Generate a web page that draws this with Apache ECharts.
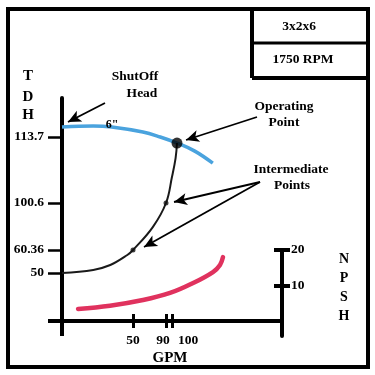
<!DOCTYPE html>
<html><head><meta charset="utf-8">
<script src="https://cdn.jsdelivr.net/npm/echarts@6/dist/echarts.min.js"></script>
<style>html,body{margin:0;padding:0;background:#fff}#c{width:375px;height:375px}</style>
</head><body><div id="c"></div>
<script>
// ---- data ----
const gpmTicks = [50, 90, 100];
const headTicks = [50, 60.36, 100.6, 113.7];
const npshTicks = [10, 20];
const pumpGpm = [0, 22, 35, 62, 83, 108.3, 138, 168];
const pumpHead = [115.7, 115.9, 115.7, 114.7, 113.7, 112.5, 110.9, 108.5];
const sysGpm = [0, 22, 34, 46, 50, 74, 90, 100, 106, 108.3];
const sysHead = [50, 51.4, 53.6, 58.1, 60.36, 80, 100.6, 105.8, 109.5, 112.5];
const interGpm = [50, 90];
const interHead = [60.36, 100.6];
const opGpm = [108.3];
const opHead = [112.5];
const npshGpm = [11.3, 33.8, 62.1, 96.7, 135, 168.3, 180, 185];
const npshVal = [3.4, 4.3, 5.9, 7.9, 10.7, 13.8, 15.8, 18.0];

// ---- schematic (non-linear) axis scales ----
const gpmKnots = [[0, 0], [50, 71], [90, 104], [100, 110]];
const headKnots = [[50, 48], [60.36, 71], [100.6, 118], [113.7, 184]];
function piecewise(knots, v) {
  let i = 0;
  while (i < knots.length - 2 && v > knots[i + 1][0]) i++;
  const a = knots[i], b = knots[i + 1];
  return a[1] + (v - a[0]) * (b[1] - a[1]) / (b[0] - a[0]);
}
const gx = v => piecewise(gpmKnots, v);
const hy = v => piecewise(headKnots, v);
const pair = (xs, ys, fy) => xs.map((x, i) => [gx(x), fy ? fy(ys[i]) : ys[i]]);

const SERIF = '"Liberation Serif", "Times New Roman", serif';
const font = (s) => 'bold ' + s + 'px ' + SERIF;
const gTickVals = gpmTicks.map(gx);
const hTickVals = headTicks.map(hy);
function idxOf(arr, v) { let b = 0; arr.forEach((a, i) => { if (Math.abs(a - v) < Math.abs(arr[b] - v)) b = i; }); return b; }

const labelBase = { fontFamily: SERIF, fontWeight: 'bold', fontSize: 13.5, color: '#000' };

function txt(text, x, y, size) {
  return { type: 'text', z: 10, style: { text, x, y, font: font(size), fill: '#000',
    align: 'center', verticalAlign: 'middle', textAlign: 'center', textVerticalAlign: 'middle' } };
}
function seg(x1, y1, x2, y2, w) {
  return { type: 'line', z: 10, shape: { x1, y1, x2, y2 }, style: { stroke: '#000', lineWidth: w } };
}

const chart = echarts.init(document.getElementById('c'), null, { renderer: 'canvas' });
chart.setOption({
  animation: false,
  backgroundColor: '#fff',
  grid: [
    { left: 62, right: 93, top: 98, bottom: 54 },
    { left: 281, width: 1, top: 250, bottom: 39 }
  ],
  xAxis: [
    { gridIndex: 0, type: 'value', position: 'bottom', min: 0, max: 220, splitLine: { show: false },
      axisLine: { show: true, onZero: false, lineStyle: { color: '#000', width: 4 } },
      axisTick: { show: true, customValues: gTickVals, length: 7, inside: false, lineStyle: { color: '#000', width: 3 } },
      axisLabel: { show: true, customValues: gTickVals, margin: 13,
        formatter: v => { const i = idxOf(gTickVals, v); return '{p' + i + '|' + gpmTicks[i] + '}'; },
        rich: {
          p0: Object.assign({}, labelBase),
          p1: Object.assign({ padding: [0, 6, 0, 0] }, labelBase),
          p2: Object.assign({ padding: [0, 0, 0, 32] }, labelBase)
        } } },
    { gridIndex: 0, type: 'value', position: 'bottom', min: 0, max: 220, splitLine: { show: false },
      axisLine: { show: false, onZero: false },
      axisTick: { show: true, customValues: gTickVals, length: 7, inside: true, lineStyle: { color: '#000', width: 3 } },
      axisLabel: { show: false } },
    { gridIndex: 0, type: 'value', position: 'bottom', min: 0, max: 220, splitLine: { show: false },
      axisLine: { show: false, onZero: false },
      axisTick: { show: true, customValues: [0], length: 15, inside: false, lineStyle: { color: '#000', width: 4 } },
      axisLabel: { show: false } },
    { gridIndex: 1, type: 'value', position: 'bottom', min: 0, max: 1, show: false }
  ],
  yAxis: [
    { gridIndex: 0, type: 'value', position: 'left', min: 0, max: 223, splitLine: { show: false },
      axisLine: { show: true, onZero: false, lineStyle: { color: '#000', width: 4 } },
      axisTick: { show: true, customValues: hTickVals, length: 14, inside: false, lineStyle: { color: '#000', width: 2.5 } },
      axisLabel: Object.assign({ show: true, customValues: hTickVals, margin: 18,
        formatter: v => String(headTicks[idxOf(hTickVals, v)]) }, labelBase) },
    { gridIndex: 0, type: 'value', position: 'left', min: 0, max: 223, splitLine: { show: false },
      axisLine: { show: false, onZero: false },
      axisTick: { show: true, customValues: [0], length: 14, inside: false, lineStyle: { color: '#000', width: 4 } },
      axisLabel: { show: false } },
    { gridIndex: 0, type: 'value', position: 'left', min: 0, max: 223 / 3.55, show: false },
    { gridIndex: 1, type: 'value', position: 'right', min: -15 / 3.55, max: 20, splitLine: { show: false },
      axisLine: { show: true, onZero: false, lineStyle: { color: '#000', width: 4 } },
      axisTick: { show: true, customValues: npshTicks, length: 8, inside: false, lineStyle: { color: '#000', width: 4 } },
      axisLabel: Object.assign({ show: true, customValues: npshTicks, margin: 9 }, labelBase) },
    { gridIndex: 1, type: 'value', position: 'right', min: -15 / 3.55, max: 20, splitLine: { show: false },
      axisLine: { show: false, onZero: false },
      axisTick: { show: true, customValues: npshTicks, length: 8, inside: true, lineStyle: { color: '#000', width: 4 } },
      axisLabel: { show: false } }
  ],
  series: [
    { type: 'line', name: 'NPSH', xAxisIndex: 0, yAxisIndex: 2, data: pair(npshGpm, npshVal), smooth: 0.4,
      showSymbol: false, lineStyle: { color: '#e0325e', width: 4.5, cap: 'round' }, z: 3 },
    { type: 'line', name: 'Pump 6"', xAxisIndex: 0, yAxisIndex: 0, data: pair(pumpGpm, pumpHead, hy), smooth: 0.4,
      showSymbol: false, lineStyle: { color: '#4aa3de', width: 3.5 }, z: 3 },
    { type: 'line', name: 'System', xAxisIndex: 0, yAxisIndex: 0, data: pair(sysGpm, sysHead, hy), smooth: 0.4,
      showSymbol: false, lineStyle: { color: '#1a1a1a', width: 2 }, z: 4,
      markLine: { silent: true, symbol: ['none', 'arrow'], symbolSize: [9, 13], label: { show: false },
        lineStyle: { color: '#000', width: 1.8, type: 'solid' },
        data: [
          [{ x: 105, y: 103 }, { x: 68, y: 122 }],
          [{ x: 257, y: 117 }, { x: 186, y: 140 }],
          [{ x: 260, y: 182 }, { x: 174, y: 202 }],
          [{ x: 260, y: 182 }, { x: 144, y: 247 }]
        ] } },
    { type: 'scatter', name: 'Intermediate', xAxisIndex: 0, yAxisIndex: 0, data: pair(interGpm, interHead, hy),
      symbolSize: 5, itemStyle: { color: '#111' }, z: 5 },
    { type: 'scatter', name: 'Operating', xAxisIndex: 0, yAxisIndex: 0, data: pair(opGpm, opHead, hy),
      symbolSize: 11, itemStyle: { color: '#000' }, z: 6 }
  ],
  graphic: [
    { type: 'rect', z: 10, shape: { x: 8, y: 9, width: 360, height: 358 }, style: { stroke: '#000', lineWidth: 4, fill: null } },
    seg(252, 9, 252, 78, 4), seg(252, 43, 368, 43, 3), seg(252, 78, 368, 78, 4),
    txt('3x2x6', 299, 27, 13.5), txt('1750 RPM', 303, 60, 13.5),
    txt('T', 28, 76, 15), txt('D', 28, 97, 15), txt('H', 28, 115, 15),
    txt('N', 344, 259, 14), txt('P', 344, 278, 14), txt('S', 344, 297, 14), txt('H', 344, 316, 14),
    txt('GPM', 170, 358, 15),
    txt('ShutOff', 135, 77, 13.5), txt('Head', 142, 94, 13.5),
    txt('Operating', 284, 107, 13.5), txt('Point', 284, 123, 13.5),
    txt('Intermediate', 291, 170, 13.5), txt('Points', 292, 186, 13.5),
    txt('6"', 112, 125, 12)
  ]
});
</script></body></html>
